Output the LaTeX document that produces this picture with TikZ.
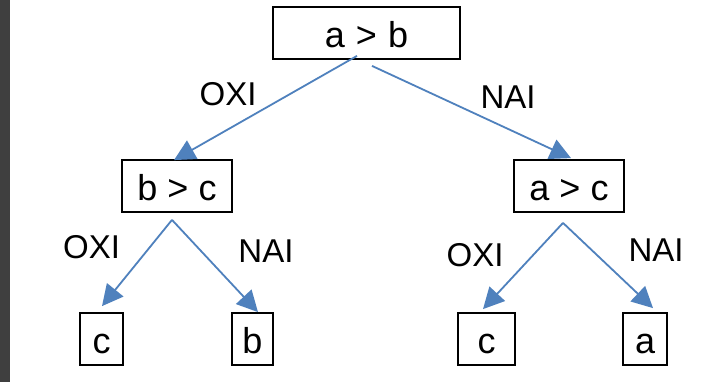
\documentclass[tikz,border=0pt]{standalone}
\usepackage{fontspec}
\setmainfont{Liberation Sans}
\usetikzlibrary{arrows.meta,calc}
\definecolor{arrblue}{HTML}{4F81BD}
\definecolor{stripgray}{HTML}{3F3F3F}
\begin{document}
\begin{tikzpicture}[x=1pt,y=-1pt,
  box/.style={draw=black,line width=1.8pt,inner sep=0pt,minimum height=52pt,
    text height=29pt,text depth=0pt,font=\fontsize{36}{36}\selectfont},
  lbl/.style={font=\fontsize{33}{33}\selectfont,inner sep=0pt},
  arr/.style={draw=arrblue,line width=1.8pt,-{Triangle[length=21pt,width=21pt]}}]
\useasboundingbox (0,0) rectangle (711,382);
\fill[white] (0,0) rectangle (711,382);
\fill[stripgray] (0,0) rectangle (10,382);

\node[box,minimum width=187pt] (top) at (366.5,33) {a\hspace{11pt}>\hspace{11pt}b};
\node[box,minimum width=110pt] (bc) at (177,186) {b\hspace{10pt}>\hspace{10pt}c};
\node[box,minimum width=110pt] (ac) at (569,186) {a\hspace{10pt}>\hspace{10pt}c};
\node[box,minimum width=43pt] (c1) at (101.5,339) {c};
\node[box,minimum width=41pt] (b1) at (252.5,339) {b};
\node[box,minimum width=57pt] (c2) at (486.5,339) {c};
\node[box,minimum width=44pt] (a1) at (645,339) {a};

\node[lbl] (l1) at (228,94) {OXI};
\node[lbl] (l2) at (508,97) {NAI};
\node[lbl] (l3) at (91.5,247) {OXI};
\node[lbl] (l4) at (266,251) {NAI};
\node[lbl] (l5) at (475,255) {OXI};
\node[lbl] (l6) at (656,250) {NAI};

\draw[arr] ($(top.south)+(-9.5,-4)$) -- ($(bc.north)+(-3,1)$);
\draw[arr] ($(top.south)+(5.5,6)$) -- ($(ac.north)+(2,-1)$);
\draw[arr] ($(bc.south)+(-5,7)$) -- ($(c1.north)+(0.5,-6)$);
\draw[arr] ($(bc.south)+(-5,7)$) -- ($(b1.north)+(5.5,0)$);
\draw[arr] ($(ac.south)+(-6,10)$) -- ($(c2.north)+(-3.5,-3)$);
\draw[arr] ($(ac.south)+(-6,10)$) -- ($(a1.north)+(8,-4)$);
\end{tikzpicture}
\end{document}
